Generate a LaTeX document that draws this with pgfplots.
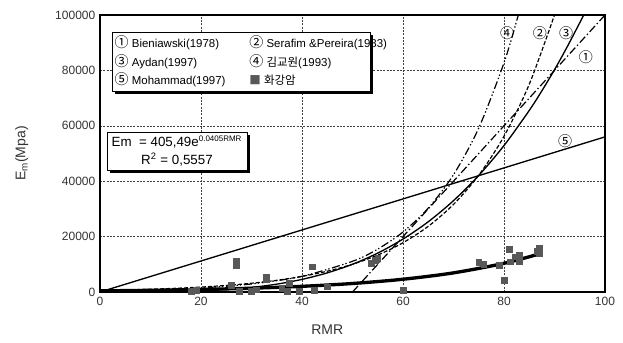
\documentclass[border=0pt]{standalone}
\usepackage{fontspec}
\setmainfont{Liberation Sans}
\newfontfamily\kr{Noto Sans CJK KR}
\usepackage{pgfplots}
\pgfplotsset{compat=1.18}
\usetikzlibrary{shadows}
\definecolor{sq}{RGB}{88,88,88}
\newcommand{\cn}[1]{{\kr\fontsize{10.5}{10}\selectfont #1}}
\begin{document}
\begin{tikzpicture}
\begin{axis}[
  scale only axis, width=378.75pt, height=207.75pt,
  xmin=0, xmax=100, ymin=0, ymax=100000,
  xtick={0,20,...,100}, ytick={0,20000,...,100000},
  scaled y ticks=false,
  /pgf/number format/assume math mode=true,
  yticklabel style={/pgf/number format/fixed, /pgf/number format/1000 sep={}},
  ticklabel style={font=\fontsize{9}{10}\selectfont, text=black!80},
  major tick length=0pt,
  grid=major,
  grid style={black!75, line width=0.4pt, dash pattern=on 1.5pt off 1pt},
  axis line style={line width=1.6pt},
  xlabel={RMR}, ylabel={E\textsubscript{m}(Mpa)},
  every axis x label/.style={at={(axis description cs:0.45,-0.137)}, anchor=center, font=\fontsize{10.5}{12}\selectfont, text=black!80},
  every axis y label/.style={at={(axis description cs:-0.155,0.5)}, rotate=90, anchor=center, font=\fontsize{10.5}{12}\selectfont, text=black!80},
]
% Mohammad (1997)
\addplot[black, line width=1pt] coordinates {(0,0) (100,56000)};
% Bieniawski (1978)
\addplot[black, line width=0.9pt, dash pattern=on 6pt off 2pt on 1pt off 2pt] coordinates {(50,0) (100,100000)};
% Serafim & Pereira (1983)
\addplot[black, line width=0.9pt, dash pattern=on 3pt off 1.5pt, smooth] coordinates {
(0,562) (5,750) (10,1000) (15,1334) (20,1778) (25,2371) (30,3162) (35,4217) (40,5623) (45,7499) (50,10000) (55,13335) (60,17783) (65,23714) (70,31623) (75,42170) (80,56234) (85,74989) (90,100000)};
% Kim (1993)
\addplot[black, line width=0.9pt, dash pattern=on 6pt off 2pt on 1pt off 1.5pt on 1pt off 2pt, smooth] coordinates {
(0,389) (10,760) (20,1486) (30,2903) (40,5674) (50,11088) (55,15500) (60,21668) (65,30290) (70,42343) (75,59200) (80,82750) (82.8,99800)};
% Aydan (1997)
\addplot[black, line width=1pt, smooth] coordinates {
(0,0) (5,2.9) (10,33.6) (15,141) (20,391) (25,862) (30,1643) (35,2835) (40,4549) (45,6903) (50,10016) (55,14041) (60,19110) (65,25360) (70,32970) (75,42080) (80,52860) (85,65540) (87.5,72640) (90,80240) (92.5,88470) (95,97200) (95.8,100100)};
% granite data
\addplot[only marks, mark=square*, mark size=2.2pt, color=sq] coordinates {
(18,300) (19,600) (26,2500) (27,9500) (27,11000) (27.5,400) (30,300) (31,800) (33,5500) (33,4500) (36,1500) (37.5,3200) (37,400) (39.5,300) (42,9100) (42.5,700) (45,1900) (53.8,10400) (54.5,11500) (55,12100) (60,700) (75,10600) (76,10100) (79,9700) (80,4300) (81,15400) (81.2,10900) (82.2,12700) (83,13400) (83,10900) (86.5,14700) (87,15800) (87,13800)};
% fit
\addplot[black, line width=2.5pt, smooth] coordinates {
(0,405) (10,608) (20,912) (30,1367) (40,2049) (50,3072) (60,4606) (70,6906) (80,10354) (87,13746)};
% curve labels
\node at (axis cs:80.6,93500) {\cn{④}};
\node at (axis cs:87.1,93500) {\cn{②}};
\node at (axis cs:92.3,93500) {\cn{③}};
\node at (axis cs:96.2,84900) {\cn{①}};
\node at (axis cs:92.1,54500) {\cn{⑤}};
% legend
\node[anchor=north west, draw=black, line width=0.6pt, fill=white, inner xsep=2pt, inner ysep=3pt,
      drop shadow={shadow xshift=2pt, shadow yshift=-2pt, fill=black, opacity=1},
      font=\fontsize{8.6}{13.9}\selectfont, align=left] at (axis cs:2.3,94000) {%
\makebox[101pt][l]{\cn{①} Bieniawski(1978)}\makebox[89pt][l]{\cn{②} Serafim \&Pereira(1983)}\\
\makebox[101pt][l]{\cn{③} Aydan(1997)}\makebox[89pt][l]{\cn{④} {\kr 김교원}(1993)}\\
\makebox[101pt][l]{\cn{⑤} Mohammad(1997)}\makebox[89pt][l]{{\kr\color{sq}■} {\kr 화강암}}};
% equation box
\node[anchor=north west, draw=black, line width=0.6pt, fill=white, minimum width=105pt, minimum height=28.5pt, inner sep=2pt,
      drop shadow={shadow xshift=2pt, shadow yshift=-2pt, fill=black, opacity=1},
      font=\fontsize{10}{13}\selectfont, align=center] at (axis cs:1.3,57870) {%
Em~ = 405,49e\textsuperscript{\fontsize{6}{6}\selectfont 0.0405RMR}\\ R\textsuperscript{2} = 0,5557};
\end{axis}
\pgfresetboundingbox
\path ([xshift=-75pt, yshift=-37.5pt]current axis.south west) rectangle ([xshift=13.5pt, yshift=11.25pt]current axis.north east);
\end{tikzpicture}
\end{document}
